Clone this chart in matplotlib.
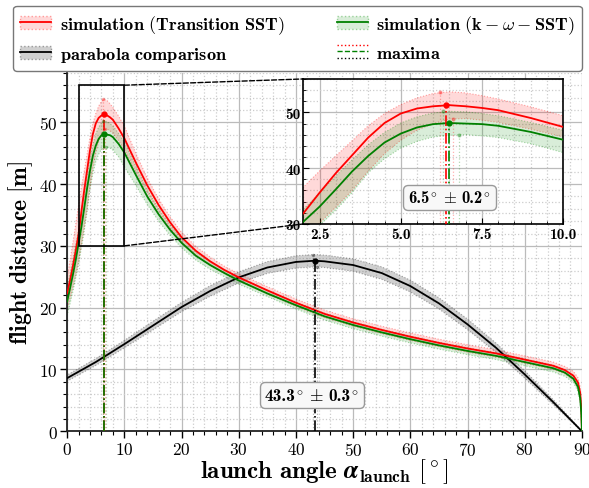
import matplotlib
matplotlib.use("Agg")
import matplotlib.pyplot as plt
from matplotlib.patches import Patch, Rectangle, ConnectionPatch
from matplotlib.lines import Line2D
from matplotlib.legend_handler import HandlerTuple, HandlerBase
from matplotlib.ticker import MultipleLocator
from matplotlib.offsetbox import TextArea, HPacker, AnnotationBbox

plt.rcParams.update({
    "font.family": "serif",
    "font.serif": ["cmr10"],
    "mathtext.fontset": "cm",
    "axes.unicode_minus": False,
    "axes.formatter.use_mathtext": True,
})

# ---------------- data ----------------
alpha = [0, 0.5, 1, 1.5, 2, 2.5, 3, 3.5, 4, 4.5, 5, 5.5, 6, 6.5, 7, 7.5, 8, 9, 10,
         12, 14, 16, 18, 20, 22.5, 25, 27.5, 30, 35, 40, 45, 50, 55, 60, 65, 70, 75, 80, 85,
         87, 88.5, 89.3, 89.7, 89.9, 90]

trans_sst = [22.3, 24.4, 26.7, 29.2, 31.9, 35.6, 39.1, 42.3, 45.5, 48.1, 49.8, 50.7, 51.1, 51.3, 51.1, 50.8, 50.4, 49.0, 47.4,
             43.5, 39.8, 36.6, 33.8, 31.4, 29.2, 27.5, 26.1, 24.9, 22.8, 20.8, 19.0, 17.6, 16.4, 15.3, 14.3, 13.4, 12.6, 11.6, 10.6,
             9.9, 9.0, 7.9, 6.2, 3.5, 0.0]
trans_sst_hi = [24.8, 27.6, 30.5, 33.5, 36.6, 39.5, 42.2, 44.9, 47.6, 49.8, 51.4, 52.6, 53.4, 53.7, 53.5, 53.0, 52.4, 51.0, 49.4,
                45.0, 41.0, 37.6, 34.7, 32.2, 29.9, 28.2, 26.7, 25.5, 23.4, 21.4, 19.6, 18.2, 17.0, 15.9, 14.9, 14.0, 13.2, 12.2, 11.2,
                10.5, 9.7, 8.7, 7.2, 4.5, 0.6]
trans_sst_lo = [19.8, 21.5, 23.3, 25.3, 27.5, 30.2, 33.0, 36.0, 39.5, 42.6, 45.0, 46.8, 48.0, 48.8, 48.9, 48.6, 48.2, 47.0, 45.6,
                42.0, 38.6, 35.6, 32.9, 30.6, 28.5, 26.8, 25.5, 24.3, 22.2, 20.2, 18.4, 17.0, 15.8, 14.7, 13.7, 12.8, 12.0, 11.0, 10.0,
                9.3, 8.3, 7.0, 5.2, 2.5, 0.0]

kw_sst = [21.0, 23.1, 25.3, 27.7, 30.4, 33.1, 36.2, 39.4, 42.2, 44.6, 46.2, 47.3, 47.9, 48.1, 48.0, 47.9, 47.6, 46.5, 45.1,
          41.5, 38.0, 35.1, 32.6, 30.5, 28.4, 26.9, 25.6, 24.4, 22.3, 20.4, 18.6, 17.2, 16.0, 14.9, 13.9, 13.0, 12.2, 11.2, 10.2,
          9.5, 8.5, 7.2, 5.3, 2.8, 0.0]
kw_sst_hi = [23.2, 25.5, 27.9, 30.3, 32.6, 35.6, 38.6, 41.5, 44.2, 46.4, 48.1, 49.2, 49.9, 50.2, 50.1, 49.8, 49.4, 48.2, 46.8,
             42.9, 39.1, 36.0, 33.4, 31.2, 29.0, 27.5, 26.1, 24.9, 22.8, 20.9, 19.1, 17.7, 16.5, 15.4, 14.4, 13.5, 12.7, 11.7, 10.7,
             10.0, 9.1, 7.9, 6.2, 3.7, 0.4]
kw_sst_lo = [18.8, 20.6, 22.6, 24.8, 27.0, 29.7, 32.5, 35.6, 39.2, 41.7, 43.6, 44.8, 45.6, 45.9, 46.0, 45.8, 45.5, 44.4, 42.8,
             39.8, 36.7, 34.0, 31.7, 29.7, 27.7, 26.2, 25.0, 23.8, 21.8, 19.8, 18.0, 16.6, 15.4, 14.3, 13.3, 12.4, 11.6, 10.6, 9.6,
             8.9, 7.9, 6.5, 4.6, 2.0, 0.0]

para_alpha = [0, 5, 10, 15, 20, 25, 30, 35, 40, 43.3, 45, 50, 55, 60, 65, 70, 75, 80, 85, 90]
parabola = [8.6, 11.2, 14.1, 17.1, 20.1, 22.7, 24.9, 26.5, 27.4, 27.6, 27.5, 26.9, 25.6, 23.5, 20.7, 17.3, 13.5, 9.2, 4.7, 0.0]
parabola_err = [0.5, 0.55, 0.6, 0.7, 0.75, 0.85, 0.9, 0.95, 1.0, 1.0, 1.0, 1.0, 1.0, 0.95, 0.9, 0.85, 0.75, 0.6, 0.4, 0.05]
para_hi = [p + e for p, e in zip(parabola, parabola_err)]
para_lo = [p - e for p, e in zip(parabola, parabola_err)]

# maxima: (angle, distance) for line, upper band, lower band
max_trans = [(6.4, 51.3), (6.2, 53.7), (6.6, 48.9)]
max_kw = [(6.5, 48.1), (6.3, 50.2), (6.8, 46.0)]
max_para = [(43.3, 27.6), (43.0, 28.6), (43.6, 26.6)]

inset_opt = ("6.5", "0.2")
para_opt = ("43.3", "0.3")

main_xticks = [0, 10, 20, 30, 40, 50, 60, 70, 80, 90]
main_yticks = [0, 10, 20, 30, 40, 50]
inset_xticks = [2.5, 5.0, 7.5, 10.0]
inset_xticklabels = ["2.5", "5.0", "7.5", "10.0"]
inset_yticks = [30, 40, 50]
inset_yticklabels = ["30", "40", "50"]

# ---------------- styles ----------------
RED_F = (1, 0, 0, 0.15)
RED_E = (1, 0, 0, 0.35)
GRN_F = (0, 0.55, 0, 0.15)
GRN_E = (0, 0.55, 0, 0.35)
GRY_F = (0.4, 0.4, 0.4, 0.3)
GRY_E = (0.3, 0.3, 0.3, 0.5)


def draw(a, msize=3.5, small=1.5):
    a.fill_between(alpha, trans_sst_lo, trans_sst_hi, facecolor=RED_F, edgecolor=RED_E, linestyle=":", lw=0.8, zorder=2)
    a.fill_between(alpha, kw_sst_lo, kw_sst_hi, facecolor=GRN_F, edgecolor=GRN_E, linestyle=":", lw=0.8, zorder=2)
    a.fill_between(para_alpha, para_lo, para_hi, facecolor=GRY_F, edgecolor=GRY_E, linestyle=":", lw=0.8, zorder=2)
    a.plot(para_alpha, parabola, color="black", lw=1.3, zorder=3)
    a.plot(alpha, trans_sst, color="red", lw=1.3, zorder=3)
    a.plot(alpha, kw_sst, color="green", lw=1.3, zorder=3)
    for pts, col, fcol in [(max_trans, "red", (1, 0, 0, 0.3)),
                           (max_kw, "green", (0, 0.5, 0, 0.3)),
                           (max_para, "black", (0, 0, 0, 0.3))]:
        (x0, y0), (x1, y1), (x2, y2) = pts
        a.plot([x0, x0], [0, y0], color=col, ls="-.", lw=1.2, zorder=4)
        a.plot([x0], [y0], "o", color=col, ms=msize, zorder=5)
        for xx, yy in [(x1, y1), (x2, y2)]:
            a.plot([xx, xx], [0, yy], color=fcol, ls=":", lw=0.9, zorder=4)
            a.plot([xx], [yy], "o", color=fcol, ms=small, zorder=5)


def opt_label(axis, x, y, nums, fs):
    n1, n2 = nums
    left = HPacker(children=[TextArea(n1, textprops=dict(family="cmb10", size=fs)),
                             TextArea(r"$^{\circ}$", textprops=dict(size=fs))],
                   align="baseline", pad=0, sep=0)
    pm = TextArea(r"$\pm$", textprops=dict(size=fs))
    right = HPacker(children=[TextArea(n2, textprops=dict(family="cmb10", size=fs)),
                              TextArea(r"$^{\circ}$", textprops=dict(size=fs))],
                    align="baseline", pad=0, sep=0)
    box = HPacker(children=[left, pm, right], align="baseline", pad=0, sep=fs * 0.3)
    ab = AnnotationBbox(box, (x, y), xycoords="data", frameon=True, pad=0, fontsize=fs,
                        bboxprops=dict(boxstyle="round,pad=0.3", fc="#f8f8f8", ec="#999999", lw=1), zorder=6)
    axis.add_artist(ab)


fig = plt.figure(figsize=(5.89, 4.89), dpi=100)
ax = fig.add_axes([0.114, 0.116, 0.874, 0.733])
draw(ax)
ax.set_xlim(0, 90)
ax.set_ylim(0, 58)
ax.set_xticks(main_xticks)
ax.set_yticks(main_yticks)
ax.xaxis.set_minor_locator(MultipleLocator(2))
ax.yaxis.set_minor_locator(MultipleLocator(2))
ax.grid(which="major", color="#bbbbbb", lw=0.9)
ax.grid(which="minor", color="#cccccc", ls=":", lw=0.9)
ax.set_axisbelow(True)
ax.tick_params(which="major", length=5, width=1.0, labelsize=12.5, pad=2)
ax.tick_params(which="minor", length=3, width=0.8)
for s in ["top", "right"]:
    ax.spines[s].set_visible(False)
for s in ["left", "bottom"]:
    ax.spines[s].set_linewidth(1.3)
    ax.spines[s].set_color("#222222")
ax.set_xlabel(r"$\mathbf{launch\ angle}\ \boldsymbol{\alpha}_{\mathbf{launch}}\ [^\circ]$", fontsize=18, labelpad=-1)
ax.set_ylabel(r"$\mathbf{flight\ distance\ [m]}$", fontsize=17, labelpad=3)
opt_label(ax, 42.8, 5.9, para_opt, 12.5)

# inset
axins = fig.add_axes([0.515, 0.540, 0.441, 0.2965])
draw(axins, msize=3.5, small=2)
axins.set_xlim(2, 10)
axins.set_ylim(30, 56)
axins.set_xticks(inset_xticks)
axins.set_xticklabels(inset_xticklabels, family="cmb10")
axins.set_yticks(inset_yticks)
axins.set_yticklabels(inset_yticklabels, family="cmb10")
axins.xaxis.set_minor_locator(MultipleLocator(0.5))
axins.yaxis.set_minor_locator(MultipleLocator(2))
axins.grid(which="major", color="#bbbbbb", lw=0.9)
axins.grid(which="minor", color="#cccccc", ls=":", lw=0.9)
axins.set_axisbelow(True)
axins.tick_params(which="both", direction="in", labelsize=11, pad=2)
axins.tick_params(which="major", length=4)
axins.tick_params(which="minor", length=2)
for s in axins.spines.values():
    s.set_linewidth(1.2)
opt_label(axins, 6.5, 34.8, inset_opt, 12)

# zoom indicator
ax.add_patch(Rectangle((2, 30), 8, 26, fill=False, ec="black", lw=1.2, zorder=6))
for ya, yb in [(56, 1), (30, 0)]:
    con = ConnectionPatch(xyA=(10, ya), coordsA=ax.transData, xyB=(0, yb), coordsB=axins.transAxes,
                          ls="--", color="black", lw=1.0, zorder=7)
    fig.add_artist(con)


# legend
class MaximaHandle:
    pass


class HandlerMaxima(HandlerBase):
    def create_artists(self, legend, orig_handle, xdescent, ydescent, width, height, fontsize, trans):
        arts = []
        for frac, col, ls in [(1.0, "red", ":"), (0.5, "green", "--"), (0.0, "black", ":")]:
            y = -ydescent + height * frac
            arts.append(Line2D([-xdescent, width - xdescent], [y, y], color=col, ls=ls, lw=1.0, transform=trans))
        return arts


h_trans = (Patch(facecolor=RED_F, edgecolor=RED_E, ls=":"), Line2D([], [], color="red", lw=1.3))
h_kw = (Patch(facecolor=GRN_F, edgecolor=GRN_E, ls=":"), Line2D([], [], color="green", lw=1.3))
h_para = (Patch(facecolor=GRY_F, edgecolor=GRY_E, ls=":"), Line2D([], [], color="black", lw=1.3))
h_max = MaximaHandle()
handles = [h_trans, h_para, h_kw, h_max]
labels = [r"$\mathbf{simulation\ (Transition\ SST)}$",
          r"$\mathbf{parabola\ comparison}$",
          r"$\mathbf{simulation\ (k}-\omega-\mathbf{SST)}$",
          r"$\mathbf{maxima}$"]
leg = fig.legend(handles, labels, loc="center", bbox_to_anchor=(0.022, 0.855, 0.966, 0.129), mode="expand",
                 ncol=2, fontsize=13.2, handlelength=1.7, handletextpad=0.45, fancybox=True, framealpha=1,
                 edgecolor="#777777", borderaxespad=0,
                 handler_map={tuple: HandlerTuple(ndivide=1), MaximaHandle: HandlerMaxima()})
leg.get_frame().set_linewidth(1.0)

fig.savefig("out.png", dpi=100)
